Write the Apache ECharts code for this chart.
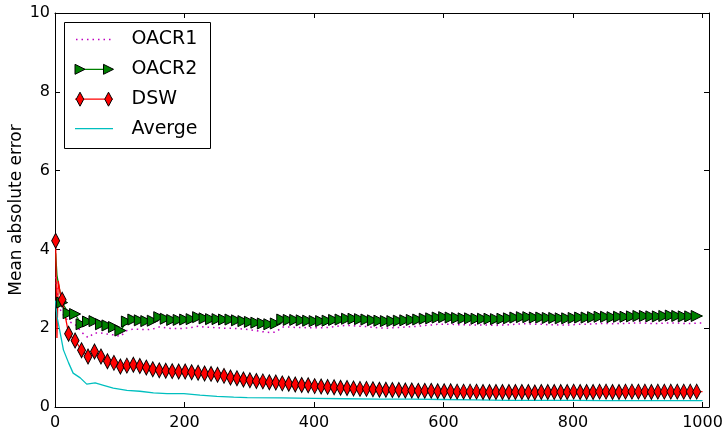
<!DOCTYPE html>
<html>
<head>
<meta charset="utf-8">
<script src="https://cdn.jsdelivr.net/npm/echarts@6/dist/echarts.min.js"></script>
<style>
html,body{margin:0;padding:0;background:#fff;}
#chart{width:727px;height:431px;}
</style>
</head>
<body>
<div id="chart"></div>
<script>
// ---- data ----
const markX = [1,11,21,31,41,51,61,71,81,91,101,111,121,131,141,151,161,171,181,191,201,211,221,231,241,251,261,271,281,291,301,311,321,331,341,351,361,371,381,391,401,411,421,431,441,451,461,471,481,491,501,511,521,531,541,551,561,571,581,591,601,611,621,631,641,651,661,671,681,691,701,711,721,731,741,751,761,771,781,791,801,811,821,831,841,851,861,871,881,891,901,911,921,931,941,951,961,971,981,991];

const oacr1 = [3.30,2.38,2.17,2.10,1.90,1.76,1.88,1.88,1.85,1.83,
 1.79,1.94,1.98,1.97,1.96,1.98,2.03,2.01,1.99,1.99,
 2.00,2.02,2.05,2.03,2.02,2.01,2.00,2.00,1.99,1.98,
 1.96,1.94,1.91,1.89,1.90,2.03,2.03,2.02,2.02,2.01,
 2.01,2.01,2.02,2.04,2.06,2.07,2.06,2.05,2.04,2.02,
 2.01,2.00,2.01,2.02,2.03,2.04,2.05,2.07,2.08,2.10,
 2.10,2.10,2.09,2.09,2.08,2.08,2.08,2.08,2.07,2.08,
 2.09,2.10,2.11,2.11,2.10,2.10,2.09,2.09,2.08,2.08,
 2.09,2.10,2.10,2.11,2.12,2.12,2.11,2.12,2.12,2.13,
 2.13,2.13,2.12,2.12,2.13,2.13,2.13,2.12,2.12,2.13];

// first value (x=1) of OACR2 has no visible marker in the reference
const oacr2MarkX = markX.slice(1);
const oacr2 = [2.65,2.38,2.36,2.10,2.17,2.18,2.10,2.07,2.03,
 1.94,2.17,2.22,2.20,2.18,2.19,2.28,2.24,2.21,2.21,
 2.22,2.23,2.28,2.25,2.23,2.23,2.22,2.22,2.20,2.18,
 2.16,2.14,2.12,2.10,2.12,2.22,2.21,2.21,2.20,2.19,
 2.18,2.18,2.19,2.21,2.22,2.24,2.24,2.23,2.22,2.20,
 2.19,2.18,2.18,2.19,2.20,2.21,2.22,2.24,2.25,2.27,
 2.28,2.27,2.26,2.25,2.25,2.24,2.24,2.24,2.23,2.24,
 2.25,2.27,2.28,2.28,2.27,2.27,2.26,2.26,2.25,2.25,
 2.26,2.27,2.27,2.28,2.29,2.29,2.28,2.29,2.29,2.30,
 2.31,2.31,2.30,2.30,2.31,2.32,2.31,2.30,2.30,2.31];

const dsw = [4.22,2.72,1.86,1.69,1.44,1.28,1.41,1.28,1.16,1.12,
 1.03,1.05,1.07,1.04,1.00,0.96,0.93,0.92,0.91,0.90,
 0.90,0.88,0.87,0.85,0.84,0.82,0.79,0.75,0.73,0.70,
 0.68,0.66,0.65,0.63,0.62,0.60,0.59,0.57,0.56,0.55,
 0.53,0.52,0.51,0.50,0.49,0.48,0.47,0.46,0.46,0.45,
 0.44,0.44,0.43,0.43,0.42,0.42,0.41,0.41,0.41,0.40,
 0.40,0.40,0.39,0.39,0.39,0.39,0.38,0.38,0.38,0.38,
 0.38,0.38,0.38,0.38,0.37,0.38,0.38,0.38,0.38,0.38,
 0.39,0.38,0.38,0.38,0.39,0.39,0.38,0.38,0.39,0.39,
 0.39,0.39,0.38,0.39,0.39,0.39,0.39,0.39,0.39,0.39];

// extra unmarked line points (early wiggles and end of run)
const oacr1ExtraX = [6, 1000];
const oacr1Extra  = [2.55, 2.13];
const oacr2ExtraX = [1, 3, 5, 1000];
const oacr2Extra  = [3.90, 3.35, 3.15, 2.31];
const dswExtraX = [3, 5, 7, 9, 1000];
const dswExtra  = [1.75, 3.20, 3.00, 2.80, 0.39];

const avgX = [1,3,8,13,21,28,39,49,62,75,90,111,131,152,173,199,224,250,276,297,350,400,450,500,550,600,650,700,750,800,850,900,950,1000];
const avgY = [2.70,2.30,1.88,1.45,1.12,0.86,0.74,0.58,0.61,0.55,0.48,0.42,0.40,0.36,0.34,0.34,0.30,0.27,0.25,0.24,0.23,0.22,0.21,0.20,0.20,0.19,0.18,0.17,0.17,0.17,0.16,0.16,0.16,0.16];

const xTicks = [0,200,400,600,800,1000];
const yTicks = [0,2,4,6,8,10];
const seriesNames = ['OACR1','OACR2','DSW','Averge'];

// ---- build series data ----
function build(mx, my, ex, ey) {
  const pts = [];
  mx.forEach((x, i) => pts.push({ value: [x, my[i]] }));
  (ex || []).forEach((x, i) => pts.push({ value: [x, ey[i]], symbol: 'none' }));
  pts.sort((a, b) => a.value[0] - b.value[0]);
  return pts;
}

const FONT = 'DejaVu Sans';
const chart = echarts.init(document.getElementById('chart'), null, { renderer: 'canvas' });

const axisCommon = {
  axisLine: { show: true, onZero: false, lineStyle: { color: '#000', width: 1 } },
  axisTick: { show: true, inside: true, length: 5, lineStyle: { color: '#000', width: 1 } },
  splitLine: { show: false }
};

const grid = { left: 55, right: 18, top: 13, bottom: 24, containLabel: false, outerBoundsMode: 'none' };

// legend drawn as graphic elements (matplotlib style, two markers per entry)
const L = { x0: 75, x1: 113, m0: 80, m1: 108.5, tx: 131.5, rows: [39.5, 69.3, 99.2, 128.6] };
function tri(cx, cy, s) {
  return [[cx - s / 2, cy - s / 2], [cx + s / 2, cy], [cx - s / 2, cy + s / 2]];
}
function dia(cx, cy, w, h) {
  return [[cx, cy - h / 2], [cx + w / 2, cy], [cx, cy + h / 2], [cx - w / 2, cy]];
}
const legendEls = [
  { type: 'rect', shape: { x: 64.5, y: 22.5, width: 146, height: 126 }, style: { fill: '#fff', stroke: '#000', lineWidth: 1 }, z: 100 },
  { type: 'line', shape: { x1: 76, y1: L.rows[0], x2: 112, y2: L.rows[0] }, style: { stroke: '#bf00bf', lineWidth: 1.5, lineDash: [1.5, 4] }, z: 101 },
  { type: 'line', shape: { x1: L.x0, y1: L.rows[1], x2: L.x1, y2: L.rows[1] }, style: { stroke: '#008000', lineWidth: 1.3 }, z: 101 },
  { type: 'polygon', shape: { points: tri(L.m0, L.rows[1], 10) }, style: { fill: '#008000', stroke: '#000', lineWidth: 1 }, z: 102 },
  { type: 'polygon', shape: { points: tri(L.m1, L.rows[1], 10) }, style: { fill: '#008000', stroke: '#000', lineWidth: 1 }, z: 102 },
  { type: 'line', shape: { x1: L.x0, y1: L.rows[2], x2: L.x1, y2: L.rows[2] }, style: { stroke: '#ff0000', lineWidth: 1.3 }, z: 101 },
  { type: 'polygon', shape: { points: dia(L.m0, L.rows[2], 7.5, 14) }, style: { fill: '#ff0000', stroke: '#000', lineWidth: 1 }, z: 102 },
  { type: 'polygon', shape: { points: dia(L.m1, L.rows[2], 7.5, 14) }, style: { fill: '#ff0000', stroke: '#000', lineWidth: 1 }, z: 102 },
  { type: 'line', shape: { x1: L.x0, y1: L.rows[3], x2: L.x1, y2: L.rows[3] }, style: { stroke: '#00bfbf', lineWidth: 1.3 }, z: 101 }
];
seriesNames.forEach((n, i) => {
  legendEls.push({ type: 'text', x: L.tx, y: L.rows[i], style: { text: n, fill: '#000', font: '19px "DejaVu Sans"', textVerticalAlign: 'middle', textAlign: 'left' }, z: 103 });
});

const option = {
  animation: false,
  backgroundColor: '#fff',
  grid: grid,
  xAxis: [
    Object.assign({}, axisCommon, {
      type: 'value', min: 0, max: 1010, position: 'bottom',
      axisTick: Object.assign({}, axisCommon.axisTick, { customValues: xTicks }),
      axisLabel: { customValues: xTicks, formatter: v => String(v), color: '#000', fontFamily: FONT, fontSize: 16, margin: 8 }
    }),
    Object.assign({}, axisCommon, {
      type: 'value', min: 0, max: 1010, position: 'top',
      axisTick: Object.assign({}, axisCommon.axisTick, { customValues: xTicks }),
      axisLabel: { show: false }
    })
  ],
  yAxis: [
    Object.assign({}, axisCommon, {
      type: 'value', min: 0, max: 10, interval: 2, position: 'left',
      axisLabel: { color: '#000', fontFamily: FONT, fontSize: 16, margin: 5 },
      name: 'Mean absolute error', nameLocation: 'middle', nameGap: 30, nameMoveOverlap: false,
      nameTextStyle: { color: '#000', fontFamily: FONT, fontSize: 17 }
    }),
    Object.assign({}, axisCommon, {
      type: 'value', min: 0, max: 10, interval: 2, position: 'right',
      axisLabel: { show: false }
    })
  ],
  graphic: legendEls,
  series: [
    {
      name: seriesNames[0], type: 'line', xAxisIndex: 0, yAxisIndex: 0,
      data: build(markX, oacr1, oacr1ExtraX, oacr1Extra),
      symbol: 'none', showSymbol: false,
      lineStyle: { color: '#bf00bf', width: 1.5, type: [1.5, 4] },
      itemStyle: { color: '#bf00bf' }
    },
    {
      name: seriesNames[1], type: 'line', xAxisIndex: 0, yAxisIndex: 0,
      data: build(oacr2MarkX, oacr2, oacr2ExtraX, oacr2Extra),
      symbol: 'triangle', symbolSize: [11, 11], symbolRotate: -90, showSymbol: true,
      lineStyle: { color: '#008000', width: 1.3 },
      itemStyle: { color: '#008000', borderColor: '#000', borderWidth: 1 }
    },
    {
      name: seriesNames[2], type: 'line', xAxisIndex: 0, yAxisIndex: 0,
      data: build(markX, dsw, dswExtraX, dswExtra),
      symbol: 'diamond', symbolSize: [8, 15], showSymbol: true,
      lineStyle: { color: '#ff0000', width: 1.3 },
      itemStyle: { color: '#ff0000', borderColor: '#000', borderWidth: 1 }
    },
    {
      name: seriesNames[3], type: 'line', xAxisIndex: 0, yAxisIndex: 0,
      data: avgX.map((x, i) => [x, avgY[i]]),
      symbol: 'none', showSymbol: false, smooth: false,
      lineStyle: { color: '#00bfbf', width: 1.3 },
      itemStyle: { color: '#00bfbf' }
    }
  ]
};
chart.setOption(option);
</script>
</body>
</html>
